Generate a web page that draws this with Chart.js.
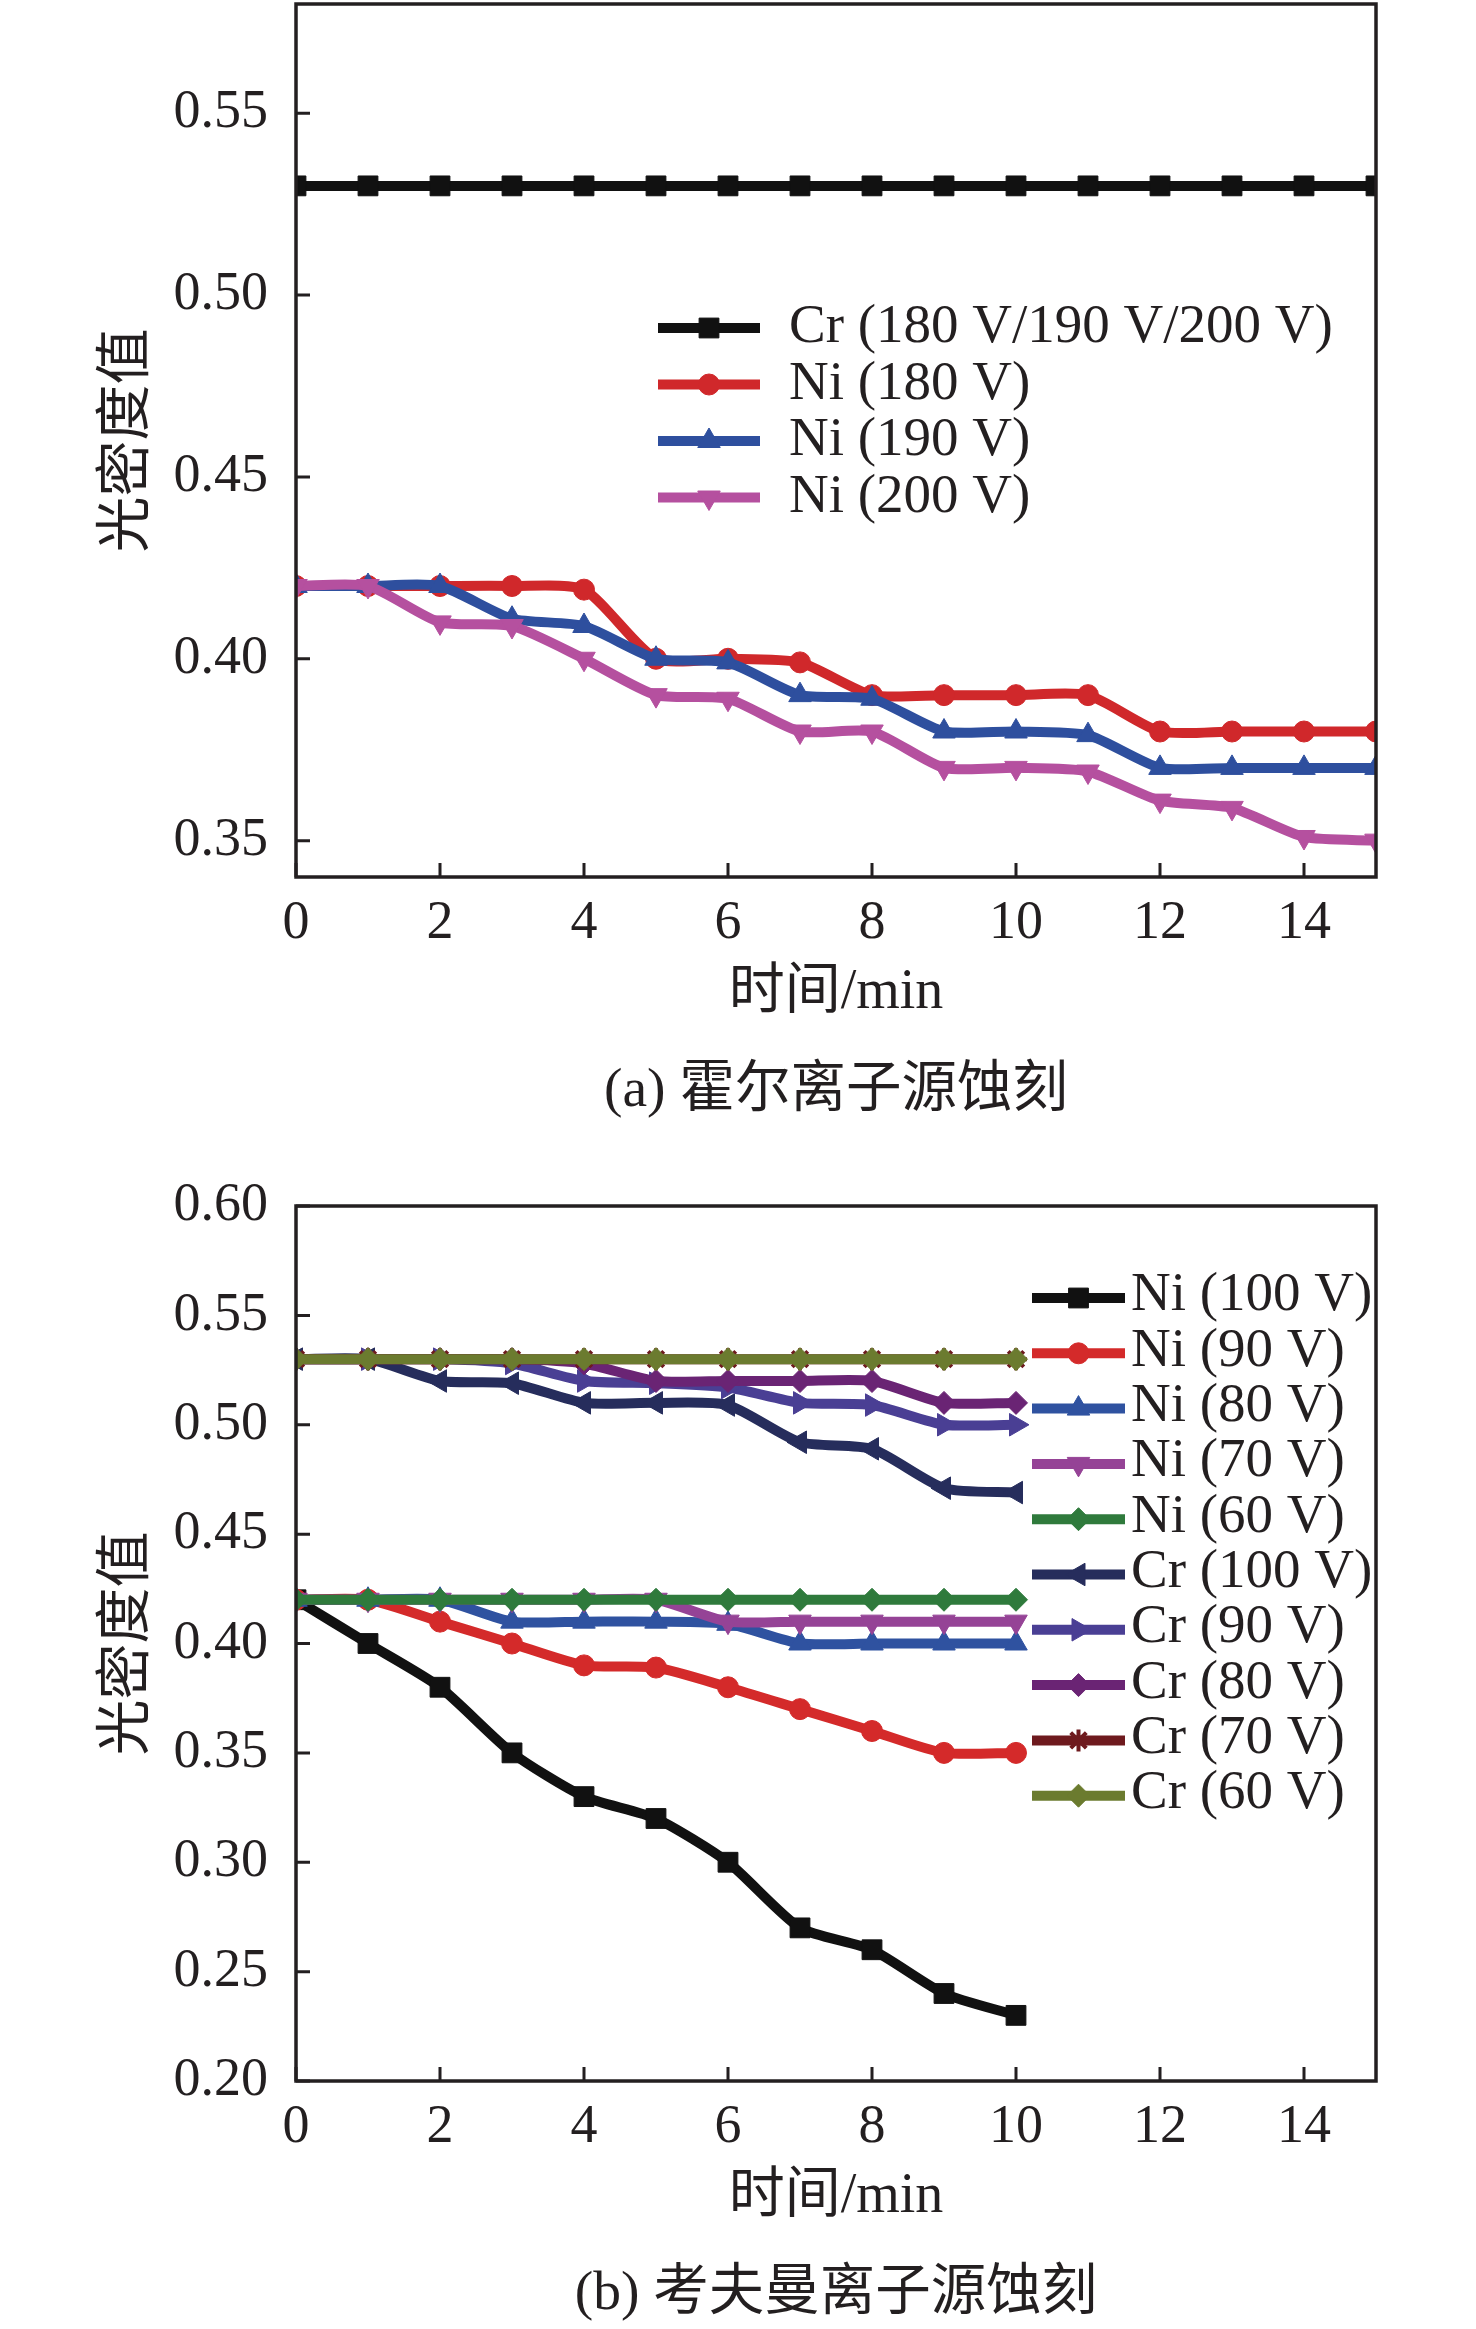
<!DOCTYPE html>
<html><head><meta charset="utf-8">
<script src="https://cdn.jsdelivr.net/npm/chart.js@4.4.0/dist/chart.umd.min.js"></script>
<style>
html,body{margin:0;padding:0;background:#fff;}
#wrap{position:relative;width:1476px;height:2329px;overflow:hidden;background:#fff;}
canvas{position:absolute;left:0;}
.cap{position:absolute;left:336px;width:1000px;text-align:center;font-family:"Liberation Serif","Noto Sans CJK SC",serif;font-size:55.5px;line-height:60px;color:#231f20;white-space:nowrap;}
</style></head>
<body><div id="wrap">
<canvas id="ca" width="1476" height="1160" style="top:0px"></canvas>
<canvas id="cb" width="1476" height="1169" style="top:1160px"></canvas>
<div class="cap" style="top:1058px">(a) 霍尔离子源蚀刻</div>
<div class="cap" style="top:2261px">(b) 考夫曼离子源蚀刻</div>
</div>
<script>
// ---------- data ----------
const xTicks = [0, 2, 4, 6, 8, 10, 12, 14];
const yTicksA = [0.35, 0.40, 0.45, 0.50, 0.55];
const yTicksB = [0.20, 0.25, 0.30, 0.35, 0.40, 0.45, 0.50, 0.55, 0.60];

const timeA = [0, 1, 2, 3, 4, 5, 6, 7, 8, 9, 10, 11, 12, 13, 14, 15];
const crA   = [0.53, 0.53, 0.53, 0.53, 0.53, 0.53, 0.53, 0.53, 0.53, 0.53, 0.53, 0.53, 0.53, 0.53, 0.53, 0.53];
const ni180 = [0.42, 0.42, 0.42, 0.42, 0.419, 0.40, 0.40, 0.399, 0.39, 0.39, 0.39, 0.39, 0.38, 0.38, 0.38, 0.38];
const ni190 = [0.42, 0.42, 0.42, 0.411, 0.409, 0.40, 0.399, 0.39, 0.389, 0.38, 0.38, 0.379, 0.37, 0.37, 0.37, 0.37];
const ni200 = [0.42, 0.42, 0.41, 0.409, 0.40, 0.39, 0.389, 0.38, 0.38, 0.37, 0.37, 0.369, 0.361, 0.359, 0.351, 0.35];
const labelsA = ['Cr (180 V/190 V/200 V)', 'Ni (180 V)', 'Ni (190 V)', 'Ni (200 V)'];

const timeB = [0, 1, 2, 3, 4, 5, 6, 7, 8, 9, 10];
const ni100 = [0.42, 0.40, 0.38, 0.35, 0.33, 0.32, 0.30, 0.27, 0.26, 0.24, 0.23];
const ni90  = [0.42, 0.42, 0.41, 0.40, 0.39, 0.389, 0.38, 0.37, 0.36, 0.35, 0.35];
const ni80  = [0.42, 0.42, 0.42, 0.41, 0.41, 0.41, 0.409, 0.40, 0.40, 0.40, 0.40];
const ni70  = [0.42, 0.42, 0.42, 0.42, 0.42, 0.42, 0.41, 0.41, 0.41, 0.41, 0.41];
const ni60  = [0.42, 0.42, 0.42, 0.42, 0.42, 0.42, 0.42, 0.42, 0.42, 0.42, 0.42];
const cr100 = [0.53, 0.53, 0.52, 0.519, 0.51, 0.51, 0.509, 0.492, 0.489, 0.471, 0.469];
const cr90  = [0.53, 0.53, 0.53, 0.528, 0.52, 0.519, 0.517, 0.51, 0.509, 0.50, 0.50];
const cr80  = [0.53, 0.53, 0.53, 0.53, 0.528, 0.52, 0.52, 0.52, 0.52, 0.51, 0.51];
const cr70  = [0.53, 0.53, 0.53, 0.53, 0.53, 0.53, 0.53, 0.53, 0.53, 0.53, 0.53];
const cr60  = [0.53, 0.53, 0.53, 0.53, 0.53, 0.53, 0.53, 0.53, 0.53, 0.53, 0.53];
const labelsB = ['Ni (100 V)', 'Ni (90 V)', 'Ni (80 V)', 'Ni (70 V)', 'Ni (60 V)',
                 'Cr (100 V)', 'Cr (90 V)', 'Cr (80 V)', 'Cr (70 V)', 'Cr (60 V)'];

const xTitle = '时间/min';
const yTitle = '光密度值';

// ---------- styling ----------
const INK = '#231f20';
const FAM = '"Liberation Serif", "Noto Sans CJK SC", serif';
const MARK = { rect: 14, circle: 10.5, triangle: 13, rectRot: 11.5, star: 11 };

function series(label, xs, ys, color, style, rot, idx) {
  return {
    label: label,
    data: xs.map((x, i) => ({ x: x, y: ys[i] })),
    borderColor: color, backgroundColor: color,
    pointBackgroundColor: color, pointBorderColor: color,
    borderWidth: 10, pointRadius: MARK[style], pointBorderWidth: style === 'star' ? 4 : 1,
    pointStyle: style, pointRotation: rot,
    tension: 0.22,
    order: -idx
  };
}

const frameTicks = {
  id: 'frameTicks',
  afterDatasetsDraw(chart) {
    const { ctx, chartArea: a, scales } = chart;
    ctx.save();
    ctx.strokeStyle = INK;
    ctx.lineWidth = 3;
    ctx.beginPath();
    scales.x.ticks.forEach(t => {
      const px = scales.x.getPixelForValue(t.value);
      ctx.moveTo(px, a.bottom); ctx.lineTo(px, a.bottom - 14);
    });
    scales.y.ticks.forEach(t => {
      const py = scales.y.getPixelForValue(t.value);
      ctx.moveTo(a.left, py); ctx.lineTo(a.left + 14, py);
    });
    ctx.stroke();
    ctx.lineWidth = 3.5;
    ctx.strokeRect(a.left, a.top, a.right - a.left, a.bottom - a.top);
    ctx.restore();
  }
};

const innerLegend = {
  id: 'innerLegend',
  afterDraw(chart, args, o) {
    const ctx = chart.ctx;
    ctx.save();
    chart.data.datasets.forEach((ds, i) => {
      const y = o.y0 + i * o.dy;
      ctx.strokeStyle = ds.borderColor;
      ctx.lineWidth = ds.borderWidth;
      ctx.lineCap = 'butt';
      ctx.beginPath(); ctx.moveTo(o.x1, y); ctx.lineTo(o.x2, y); ctx.stroke();
      ctx.fillStyle = ds.pointBackgroundColor;
      ctx.strokeStyle = ds.pointBorderColor;
      ctx.lineWidth = ds.pointBorderWidth;
      Chart.helpers.drawPoint(ctx, {
        pointStyle: ds.pointStyle, rotation: ds.pointRotation || 0,
        radius: ds.pointRadius, borderWidth: ds.pointBorderWidth
      }, (o.x1 + o.x2) / 2, y);
      ctx.fillStyle = INK;
      ctx.font = '55px ' + FAM;
      ctx.textBaseline = 'middle';
      ctx.textAlign = 'left';
      ctx.fillText(ds.label, o.tx, y + o.ty);
    });
    ctx.restore();
  }
};

function makeChart(id, datasets, yMin, yMax, yTicks, geo, legendOpts) {
  const H = document.getElementById(id).height;
  const titleFont = { family: FAM, size: 56, lineHeight: 1.2 };
  const half = 56 * 1.2 / 2;
  return new Chart(document.getElementById(id), {
    type: 'line',
    data: { datasets: datasets },
    plugins: [frameTicks, innerLegend],
    options: {
      responsive: false, animation: false, devicePixelRatio: 1, events: [],
      layout: { autoPadding: false, padding: { left: 0, top: geo.top, right: 1476 - 1376, bottom: 0 } },
      plugins: { legend: { display: false }, tooltip: { enabled: false }, innerLegend: legendOpts },
      scales: {
        x: {
          type: 'linear', min: 0, max: 15,
          afterBuildTicks: s => { s.ticks = xTicks.map(v => ({ value: v })); },
          afterFit: s => { s.height = H - geo.bottom; s.paddingLeft = 0; s.paddingRight = 0; s.paddingTop = 0; s.paddingBottom = 0; },
          grid: { display: false, drawTicks: false },
          border: { display: false },
          ticks: { color: INK, font: { family: FAM, size: 54 }, padding: 14, maxRotation: 0, autoSkip: false,
                   callback: v => String(v) },
          title: { display: true, text: xTitle, color: INK, font: titleFont,
                   padding: { top: 0, bottom: H - geo.xTitle - half } }
        },
        y: {
          type: 'linear', min: yMin, max: yMax,
          afterBuildTicks: s => { s.ticks = yTicks.map(v => ({ value: v })); },
          afterFit: s => { s.width = 296; s.paddingLeft = 0; s.paddingRight = 0; s.paddingTop = 0; s.paddingBottom = 0; },
          grid: { display: false, drawTicks: false },
          border: { display: false },
          ticks: { color: INK, font: { family: FAM, size: 54 }, padding: 28, autoSkip: false,
                   callback: v => v.toFixed(2) },
          title: { display: true, text: yTitle, color: INK, font: titleFont,
                   padding: { top: 128 - half, bottom: 0 } }
        }
      }
    }
  });
}

const dsA = [
  series(labelsA[0], timeA, crA,   '#111111', 'rect', 0, 0),
  series(labelsA[1], timeA, ni180, '#d0282b', 'circle', 0, 1),
  series(labelsA[2], timeA, ni190, '#2e4f9e', 'triangle', 0, 2),
  series(labelsA[3], timeA, ni200, '#b5509f', 'triangle', 180, 3)
];
makeChart('ca', dsA, 0.34, 0.58, yTicksA,
  { top: 4, bottom: 877, xTitle: 993 },
  { x1: 658, x2: 760, tx: 789, y0: 328, dy: 56.5, ty: 0 });

const dsB = [
  series(labelsB[0], timeB, ni100, '#111111', 'rect', 0, 0),
  series(labelsB[1], timeB, ni90,  '#d42a2a', 'circle', 0, 1),
  series(labelsB[2], timeB, ni80,  '#2f52a0', 'triangle', 0, 2),
  series(labelsB[3], timeB, ni70,  '#954396', 'triangle', 180, 3),
  series(labelsB[4], timeB, ni60,  '#2f7a3c', 'rectRot', 0, 4),
  series(labelsB[5], timeB, cr100, '#262d5c', 'triangle', -90, 5),
  series(labelsB[6], timeB, cr90,  '#4a3f94', 'triangle', 90, 6),
  series(labelsB[7], timeB, cr80,  '#6a2474', 'rectRot', 0, 7),
  series(labelsB[8], timeB, cr70,  '#6e1a1e', 'star', 0, 8),
  series(labelsB[9], timeB, cr60,  '#6b7b2f', 'rectRot', 0, 9)
];
makeChart('cb', dsB, 0.20, 0.60, yTicksB,
  { top: 46, bottom: 921, xTitle: 1037 },
  { x1: 1032, x2: 1125, tx: 1131, y0: 138, dy: 55.3, ty: -2 });
</script>
</body></html>
